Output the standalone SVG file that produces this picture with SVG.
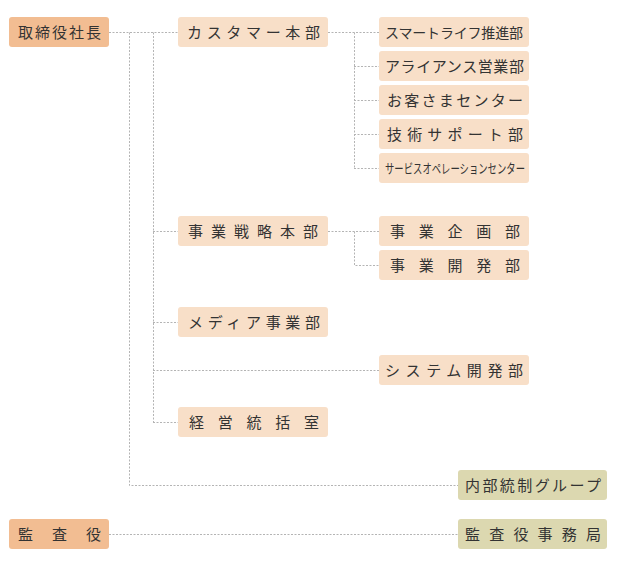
<svg xmlns="http://www.w3.org/2000/svg" width="620" height="570" viewBox="0 0 620 570">
<style>
.b{fill:#f8dfc8}
.o{fill:#f2bd92}
.k{fill:#dcd8b0}
text{font-family:"Noto Sans CJK JP","Noto Sans",sans-serif;font-size:15px;fill:#333}
.c{fill:none;stroke:#b4b4b4;stroke-width:1;stroke-dasharray:2 1.5}
</style>
<rect width="620" height="570" fill="#fff"/>
<g id="connectors">
<path class="c" d="M109 32.5H178M129.5 32.5V485.5H458M153.5 32.5V422.5M153 231.5H178M153 322.5H178M153 370.5H379M153 422.5H178"/>
<path class="c" d="M328 32.5H379M354.5 32.5V168.5M354 66.5H379M354 100.5H379M354 134.5H379M354 168.5H379"/>
<path class="c" d="M328 231.5H379M354.5 231.5V265.5H379"/>
<path class="c" d="M109 534.5H458"/>
</g>
<g id="ceo"><rect class="o" x="9" y="17" width="100" height="30" rx="3"/><text x="18" y="37.5" textLength="83">取締役社長</text></g>
<g id="customer"><rect class="b" x="178" y="17" width="150" height="30" rx="3"/><text x="187" y="37.5" textLength="133">カスタマー本部</text></g>
<g id="smartlife"><rect class="b" x="379" y="17" width="150" height="30" rx="3"/><text x="385" y="37.5" textLength="138" style="font-size:14px">スマートライフ推進部</text></g>
<g id="alliance"><rect class="b" x="379" y="51" width="150" height="30" rx="3"/><text x="385" y="71.5" textLength="139">アライアンス営業部</text></g>
<g id="cscenter"><rect class="b" x="379" y="85" width="150" height="30" rx="3"/><text x="387" y="105.5" textLength="136">お客さまセンター</text></g>
<g id="techsupport"><rect class="b" x="379" y="119" width="150" height="30" rx="3"/><text x="387" y="139.5" textLength="136">技術サポート部</text></g>
<g id="serviceops"><rect class="b" x="379" y="153" width="150" height="30" rx="3"/><text x="385" y="173" textLength="140" lengthAdjust="spacingAndGlyphs" style="font-size:13px">サービスオペレーションセンター</text></g>
<g id="strategy"><rect class="b" x="178" y="216" width="150" height="30" rx="3"/><text x="188" y="236.5" textLength="130">事業戦略本部</text></g>
<g id="planning"><rect class="b" x="379" y="216" width="150" height="30" rx="3"/><text x="390" y="236.5" textLength="130">事業企画部</text></g>
<g id="development"><rect class="b" x="379" y="250" width="150" height="30" rx="3"/><text x="390" y="270.5" textLength="130">事業開発部</text></g>
<g id="media"><rect class="b" x="178" y="307" width="150" height="30" rx="3"/><text x="188" y="327.5" textLength="132">メディア事業部</text></g>
<g id="system"><rect class="b" x="379" y="355" width="150" height="30" rx="3"/><text x="385" y="375.5" textLength="138">システム開発部</text></g>
<g id="management"><rect class="b" x="178" y="407" width="150" height="30" rx="3"/><text x="189" y="427.5" textLength="130">経営統括室</text></g>
<g id="internalcontrol"><rect class="k" x="458" y="470" width="149" height="30" rx="3"/><text x="465" y="490.5" textLength="136">内部統制グループ</text></g>
<g id="auditor"><rect class="o" x="9" y="519" width="100" height="30" rx="3"/><text x="18" y="539.5" textLength="83">監査役</text></g>
<g id="auditoffice"><rect class="k" x="458" y="519" width="149" height="30" rx="3"/><text x="465" y="539.5" textLength="136">監査役事務局</text></g>
</svg>
